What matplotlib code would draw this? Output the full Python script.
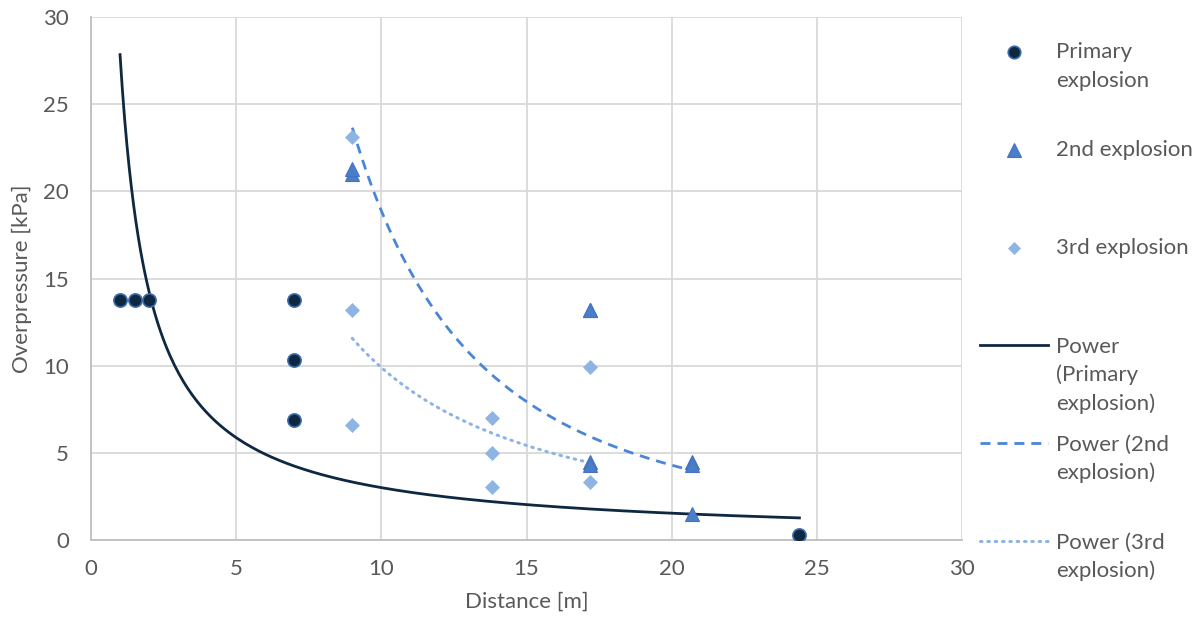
import numpy as np
import matplotlib
matplotlib.use("Agg")
import matplotlib.pyplot as plt
from matplotlib.lines import Line2D

# ---- data ----
primary_x = [1.0, 1.5, 2.0, 7.0, 7.0, 7.0, 24.4]
primary_y = [13.79, 13.79, 13.79, 13.79, 10.34, 6.89, 0.28]

second_x = [9.0, 9.0, 17.2, 17.2, 17.2, 17.2, 20.7, 20.7, 20.7]
second_y = [21.0, 21.3, 13.2, 13.2, 4.5, 4.3, 4.5, 4.3, 1.5]

third_x = [9.0, 9.0, 9.0, 13.8, 13.8, 13.8, 17.2, 17.2]
third_y = [23.1, 13.2, 6.6, 7.0, 5.0, 3.05, 9.9, 3.3]

ticks = [0, 5, 10, 15, 20, 25, 30]

legend_labels = [
    ["Primary", "explosion"],
    ["2nd explosion"],
    ["3rd explosion"],
    ["Power", "(Primary", "explosion)"],
    ["Power (2nd", "explosion)"],
    ["Power (3rd", "explosion)"],
]

# ---- style ----
FONT = "Lato"
TXT = "#595959"
GRID = "#D9D9D9"
C_PRI = "#0E2841"
C_PRI_EDGE = "#3F6AA8"
C_SEC = "#4A7EC7"
C_SEC_LINE = "#4A86D8"
C_THI = "#8EB4E3"
FS = 16
DASH = (3.6, 2.5)
DOT = (0.5, 1.9)

plt.rcParams['font.family'] = [FONT, 'DejaVu Sans']

fig = plt.figure(figsize=(12.04, 6.27), dpi=100)
ax = fig.add_axes([91 / 1204, (627 - 540) / 627, 871 / 1204, 523 / 627])


def power_fit(x, y):
    lx, ly = np.log(x), np.log(y)
    b, lna = np.polyfit(lx, ly, 1)
    xs = np.linspace(min(x), max(x), 300)
    return xs, np.exp(lna) * xs ** b


# trendlines
xs, ys = power_fit(primary_x, primary_y)
ax.plot(xs, ys, color=C_PRI, lw=2.0, zorder=3)
xs, ys = power_fit(second_x, second_y)
ax.plot(xs, ys, color=C_SEC_LINE, lw=2.0, dashes=DASH, zorder=3)
xs, ys = power_fit(third_x, third_y)
ax.plot(xs, ys, color=C_THI, lw=2.2, dashes=DOT, dash_capstyle='round', zorder=3)

# points
ax.plot(primary_x, primary_y, 'o', ms=9.5, mfc=C_PRI, mec=C_PRI_EDGE, mew=1.2, zorder=4)
ax.plot(second_x, second_y, '^', ms=10.5, mfc=C_SEC, mec="#4472C4", mew=0.8, zorder=4)
ax.plot(third_x, third_y, 'D', ms=7.3, mfc=C_THI, mec=C_THI, mew=0.5, zorder=4)

ax.set_xlim(0, 30)
ax.set_ylim(0, 30)
ax.set_xticks(ticks)
ax.set_yticks(ticks)
ax.grid(True, color=GRID, lw=1.3)
ax.set_axisbelow(True)
for s in ['top', 'right']:
    ax.spines[s].set_visible(False)
for s in ['left', 'bottom']:
    ax.spines[s].set_color("#BFBFBF")
    ax.spines[s].set_linewidth(1.3)
ax.tick_params(length=0, labelsize=FS, labelcolor=TXT)
ax.tick_params(axis='x', pad=14)
ax.tick_params(axis='y', pad=16)
ax.set_xlabel("Distance [m]", fontsize=FS, color=TXT, labelpad=9)
ax.set_ylabel("Overpressure [kPa]", fontsize=FS, color=TXT, labelpad=8)

# ---- legend (manual) ----
def fx(px):
    return px / 1204


def fy(py):
    return 1 - py / 627


MX, TX, LX0, LX1 = 1014, 1056, 980, 1048
LINE_H = 28.5
entry_y = [51, 149, 247, 345, 443, 541]

handles = [
    dict(marker='o', ms=9, mfc=C_PRI, mec=C_PRI_EDGE, mew=1.2),
    dict(marker='^', ms=9.5, mfc=C_SEC, mec="#4472C4", mew=0.8),
    dict(marker='D', ms=6.5, mfc=C_THI, mec=C_THI, mew=0.5),
]
for i, h in enumerate(handles):
    fig.add_artist(Line2D([fx(MX)], [fy(entry_y[i] + 1)], ls='none', **h))

line_styles = [
    dict(color=C_PRI, lw=2.0),
    dict(color=C_SEC_LINE, lw=2.0, dashes=DASH),
    dict(color=C_THI, lw=2.2, dashes=DOT, dash_capstyle='round'),
]
for j, st in enumerate(line_styles):
    y = entry_y[3 + j]
    fig.add_artist(Line2D([fx(LX0), fx(LX1)], [fy(y), fy(y)], **st))

for i, lines in enumerate(legend_labels):
    for k, t in enumerate(lines):
        fig.text(fx(TX), fy(entry_y[i] + 1.5 + k * LINE_H), t, fontsize=FS, color=TXT,
                 va='center', ha='left')

fig.savefig("out.png", dpi=100, facecolor="white")
